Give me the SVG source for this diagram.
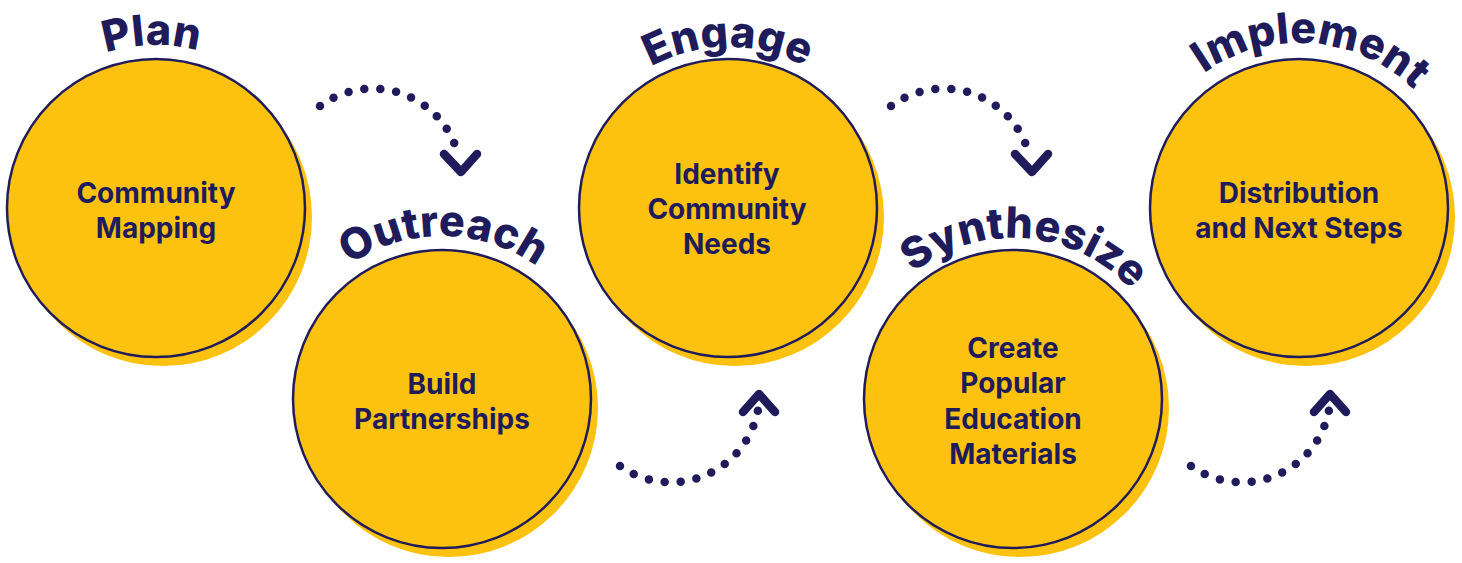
<svg xmlns="http://www.w3.org/2000/svg" xmlns:xlink="http://www.w3.org/1999/xlink" width="1462" height="563" viewBox="0 0 1462 563">
<style>
.shadow{fill:#FDC20F}
.disc{fill:#FDC20F;stroke:#201C5C;stroke-width:2.5}
.label{font-family:Inter,"Liberation Sans",sans-serif;font-weight:700;font-size:28px;fill:#201C5C;text-anchor:middle}
.title{font-family:Inter,"Liberation Sans",sans-serif;font-weight:800;font-size:43px;fill:#201C5C;letter-spacing:0.2px}
.dots{fill:none;stroke:#201C5C;stroke-width:8.5;stroke-linecap:round;stroke-dasharray:0 16}
.chev{fill:none;stroke:#201C5C;stroke-width:8.5;stroke-linecap:round;stroke-linejoin:round}
</style>
<defs>
<path id="t1" d="M-7,208 A163,163 0 0 1 319,208"/>
<path id="t2" d="M279,399 A163,163 0 0 1 605,399"/>
<path id="t3" d="M567,208 A161,161 0 0 1 889,208"/>
<path id="t4" d="M852,399 A161,161 0 0 1 1174,399"/>
<path id="t5" d="M1134,208 A165,165 0 0 1 1464,208"/>
</defs>
<g id="connectors">
<g id="c1"><path class="dots" d="M320,106 A88.5,88.5 0 0 1 459,158"/><polyline class="chev" points="444,154 461,172 477,154"/></g>
<g id="c2" transform="translate(571,0)"><path class="dots" d="M320,106 A88.5,88.5 0 0 1 459,158"/><polyline class="chev" points="444,154 461,172 477,154"/></g>
<g id="c3"><path class="dots" d="M620,466 A88.5,88.5 0 0 0 758,410"/><polyline class="chev" points="743,412 759,394 775,412"/></g>
<g id="c4" transform="translate(571,0)"><path class="dots" d="M620,466 A88.5,88.5 0 0 0 758,410"/><polyline class="chev" points="743,412 759,394 775,412"/></g>
</g>
<g id="plan">
<circle class="shadow" cx="163" cy="217" r="149"/>
<circle class="disc" cx="156" cy="208" r="149"/>
<text class="title"><textPath xlink:href="#t1" href="#t1" startOffset="49.2%" text-anchor="middle">Plan</textPath></text>
<text class="label" x="156" y="203">Community</text>
<text class="label" x="156" y="238">Mapping</text>
</g>
<g id="outreach">
<circle class="shadow" cx="449" cy="408" r="149"/>
<circle class="disc" cx="442" cy="399" r="149"/>
<text class="title"><textPath xlink:href="#t2" href="#t2" startOffset="50.3%" text-anchor="middle">Outreach</textPath></text>
<text class="label" x="442" y="394">Build</text>
<text class="label" x="442" y="429">Partnerships</text>
</g>
<g id="engage">
<circle class="shadow" cx="735" cy="217" r="149"/>
<circle class="disc" cx="728" cy="208" r="149"/>
<text class="title"><textPath xlink:href="#t3" href="#t3" startOffset="50%" text-anchor="middle">Engage</textPath></text>
<text class="label" x="727" y="184">Identify</text>
<text class="label" x="727" y="219">Community</text>
<text class="label" x="727" y="254">Needs</text>
</g>
<g id="synthesize">
<circle class="shadow" cx="1020" cy="408" r="149"/>
<circle class="disc" cx="1013" cy="399" r="149"/>
<text class="title"><textPath xlink:href="#t4" href="#t4" startOffset="52.5%" text-anchor="middle">Synthesize</textPath></text>
<text class="label" x="1013" y="358">Create</text>
<text class="label" x="1013" y="393">Popular</text>
<text class="label" x="1013" y="429">Education</text>
<text class="label" x="1013" y="464">Materials</text>
</g>
<g id="implement">
<circle class="shadow" cx="1306" cy="217" r="149"/>
<circle class="disc" cx="1299" cy="208" r="149"/>
<text class="title"><textPath xlink:href="#t5" href="#t5" startOffset="52.5%" text-anchor="middle">Implement</textPath></text>
<text class="label" x="1299" y="203">Distribution</text>
<text class="label" x="1299" y="238">and Next Steps</text>
</g>
</svg>
